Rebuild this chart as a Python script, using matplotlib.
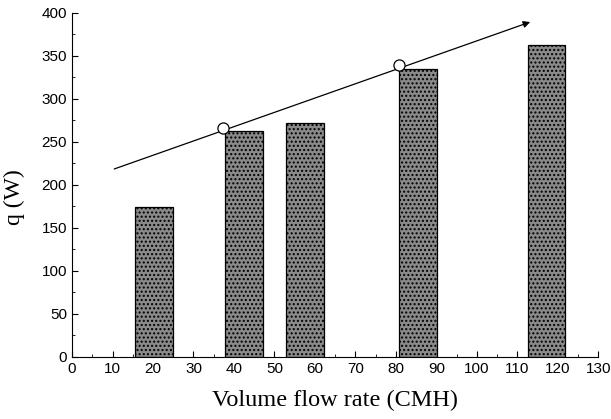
import numpy as np
import matplotlib.pyplot as plt
from matplotlib.ticker import MultipleLocator

flow_rate = [20.3, 42.5, 57.5, 85.5, 117.2]
heat = [174, 263, 272, 335, 363]
trend_x = [10.4, 113.2]
trend_y = [218.6, 389.5]
circle_x = [37.3, 80.8]
circle_y = [266, 340]


def plot_chart():
    fig = plt.figure(figsize=(6.11, 4.19), dpi=100)
    ax = fig.add_axes([0.118, 0.148, 0.861, 0.821])

    ax.bar(flow_rate, heat, width=9.3, color='#8a8a8a', edgecolor='black',
           linewidth=0.9, hatch='....', zorder=2)
    ax.annotate('', xy=(trend_x[1], trend_y[1]), xytext=(trend_x[0], trend_y[0]),
                arrowprops=dict(arrowstyle='-|>', color='black', lw=0.9,
                                mutation_scale=10, shrinkA=0, shrinkB=0), zorder=3)
    ax.plot(circle_x, circle_y, 'o', mfc='white', mec='black', ms=8, mew=0.9, zorder=4)

    ax.set_xlim(0, 130)
    ax.set_ylim(0, 400)
    ax.xaxis.set_major_locator(MultipleLocator(10))
    ax.xaxis.set_minor_locator(MultipleLocator(5))
    ax.yaxis.set_major_locator(MultipleLocator(50))
    ax.yaxis.set_minor_locator(MultipleLocator(25))
    ax.tick_params(which='both', direction='in', labelsize=11)
    ax.tick_params(which='major', length=4)
    ax.tick_params(which='minor', length=2)
    for lab in ax.get_xticklabels() + ax.get_yticklabels():
        lab.set_family('Liberation Sans')
    ax.spines['top'].set_visible(False)
    ax.spines['right'].set_visible(False)

    ax.set_xlabel('Volume flow rate (CMH)', family='Liberation Serif', fontsize=17.5, labelpad=10)
    ax.set_ylabel('q (W)', family='Liberation Serif', fontsize=17, labelpad=12)
    ax.yaxis.set_label_coords(-0.09, 0.465)

    fig.savefig('out.png', dpi=100)
    plt.close(fig)


if __name__ == '__main__':
    plot_chart()
